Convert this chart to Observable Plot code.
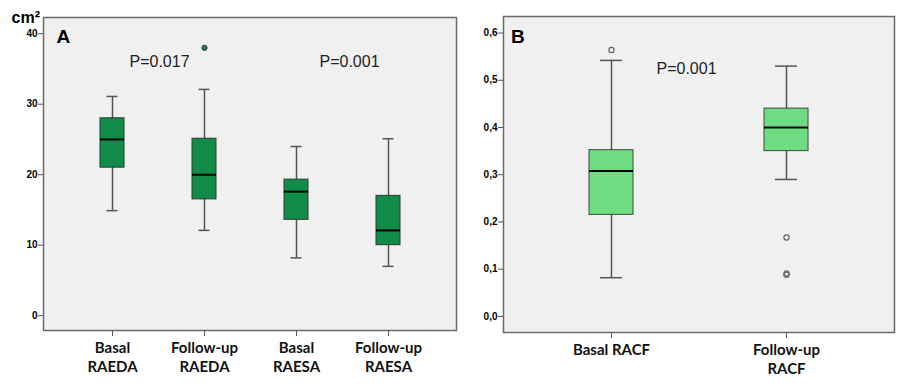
<!DOCTYPE html>
<html><head><meta charset="utf-8">
<script src="https://cdn.jsdelivr.net/npm/d3@7"></script>
<script src="https://cdn.jsdelivr.net/npm/@observablehq/plot@0.6"></script>
<style>
body{margin:0;background:#fff;}
#wrap{position:relative;width:900px;height:387px;overflow:hidden;background:#fff;}
#a{position:absolute;left:0;top:0;}
#b{position:absolute;left:460px;top:0;}
</style></head><body>
<div id="wrap"><div id="a"></div><div id="b"></div></div>
<script>
// ---- Panel A data (cm²)
const catsA = ["Basal RAEDA","Follow-up RAEDA","Basal RAESA","Follow-up RAESA"];
const labelsA = ["Basal\nRAEDA","Follow-up\nRAEDA","Basal\nRAESA","Follow-up\nRAESA"];
const lowA  = [14.9, 12.1,  8.2,  7.0];
const q1A   = [21.0, 16.5, 13.6, 10.0];
const medA  = [25.0, 20.0, 17.6, 12.1];
const q3A   = [28.0, 25.1, 19.3, 17.0];
const highA = [31.1, 32.1, 24.0, 25.1];
const outCatA = ["Follow-up RAEDA"];
const outValA = [38.0];
const ticksA = [0, 10, 20, 30, 40];
const pTextA = ["P=0.017", "P=0.001"];
const pCatA = ["Basal RAEDA", "Basal RAESA"];
const pValA = [36.0, 36.0];

// ---- Panel B data (RACF)
const catsB = ["Basal RACF","Follow-up RACF"];
const labelsB = ["Basal RACF","Follow-up\nRACF"];
const lowB  = [0.082, 0.290];
const q1B   = [0.215, 0.350];
const medB  = [0.308, 0.400];
const q3B   = [0.352, 0.440];
const highB = [0.542, 0.530];
const outCatB = ["Basal RACF","Follow-up RACF","Follow-up RACF","Follow-up RACF"];
const outValB = [0.564, 0.167, 0.091, 0.088];
const ticksB = [0, 0.1, 0.2, 0.3, 0.4, 0.5, 0.6];
const pTextB = ["P=0.001"];
const pCatB = ["Basal RACF"];
const pValB = [0.525];

const boxesA = catsA.map((c,i)=>({cat:c, low:lowA[i], q1:q1A[i], med:medA[i], q3:q3A[i], high:highA[i]}));
const outA = outCatA.map((c,i)=>({cat:c, v:outValA[i]}));
const pA = pTextA.map((t,i)=>({t, cat:pCatA[i], v:pValA[i]}));
const boxesB = catsB.map((c,i)=>({cat:c, low:lowB[i], q1:q1B[i], med:medB[i], q3:q3B[i], high:highB[i]}));
const outB = outCatB.map((c,i)=>({cat:c, v:outValB[i]}));
const pB = pTextB.map((t,i)=>({t, cat:pCatB[i], v:pValB[i]}));

const baseFont = "'Liberation Sans', Arial, sans-serif";
const labFont = "Lato, 'Open Sans', sans-serif";

const chartA = Plot.plot({
  width: 460, height: 387,
  marginLeft: 43, marginRight: 4, marginTop: 17, marginBottom: 57,
  style: {fontFamily: baseFont, background: "transparent", overflow: "visible"},
  x: {type: "band", domain: catsA, paddingInner: 0.741, paddingOuter: 0.598, axis: null},
  y: {domain: [-2.1, 42.3], axis: null},
  marks: [
    Plot.frame({fill: "#f0f0f0", stroke: "#6a6a6a", strokeWidth: 1.5}),
    Plot.axisY({ticks: ticksA, tickSize: 5, tickPadding: 1, fontSize: 10, fontWeight: "bold", stroke: "#555", fill: "#000", label: null}),
    Plot.axisX({tickSize: 6, tickPadding: 3, tickFormat: d => labelsA[catsA.indexOf(d)], fontSize: 15, fontFamily: labFont, fontWeight: 700, lineHeight: 1.27, stroke: "#555", fill: "#111", label: null}),
    Plot.ruleX(boxesA, {x: "cat", y1: "low", y2: "high", stroke: "#555", strokeWidth: 1.5}),
    Plot.tickY(boxesA, {x: "cat", y: "low", stroke: "#555", strokeWidth: 1.5, insetLeft: 6.5, insetRight: 6.5}),
    Plot.tickY(boxesA, {x: "cat", y: "high", stroke: "#555", strokeWidth: 1.5, insetLeft: 6.5, insetRight: 6.5}),
    Plot.barY(boxesA, {x: "cat", y1: "q1", y2: "q3", fill: "#118c48", stroke: "#2a3a30", strokeWidth: 1}),
    Plot.tickY(boxesA, {x: "cat", y: "med", stroke: "#000", strokeWidth: 2}),
    Plot.dot(outA, {x: "cat", y: "v", r: 2.6, fill: "#118c48", stroke: "#333", strokeWidth: 1}),
    Plot.text(pA.slice(0, 1), {x: "cat", y: "v", text: "t", dx: 47, fontSize: 16, fill: "#222"}),
    Plot.text(pA.slice(1, 2), {x: "cat", y: "v", text: "t", dx: 53, fontSize: 16, fill: "#222"}),
    Plot.text(["A"], {frameAnchor: "top-left", dx: 13, dy: 12, lineAnchor: "top", textAnchor: "start", fontSize: 19, fontWeight: 900, fill: "#000"}),
    Plot.text(["cm²"], {frameAnchor: "top-left", dx: -32, dy: 5, lineAnchor: "bottom", textAnchor: "start", fontSize: 16, fontWeight: "bold", fill: "#000"})
  ]
});
document.getElementById("a").append(chartA);

const chartB = Plot.plot({
  width: 440, height: 387,
  marginLeft: 43, marginRight: 6, marginTop: 16, marginBottom: 55,
  style: {fontFamily: baseFont, background: "transparent", overflow: "visible"},
  x: {type: "band", domain: catsB, paddingInner: 0.749, paddingOuter: 0.49, axis: null},
  y: {domain: [-0.034, 0.635], axis: null},
  marks: [
    Plot.frame({fill: "#f0f0f0", stroke: "#6a6a6a", strokeWidth: 1.5}),
    Plot.axisY({ticks: ticksB, tickSize: 5, tickPadding: 1, tickFormat: d => d3.format(".1f")(d).replace(".", ","), fontSize: 10, fontWeight: "bold", stroke: "#555", fill: "#000", label: null}),
    Plot.axisX({tickSize: 6, tickPadding: 3, tickFormat: d => labelsB[catsB.indexOf(d)], fontSize: 15, fontFamily: labFont, fontWeight: 700, lineHeight: 1.27, stroke: "#555", fill: "#111", label: null}),
    Plot.ruleX(boxesB, {x: "cat", y1: "low", y2: "high", stroke: "#555", strokeWidth: 1.5}),
    Plot.tickY(boxesB, {x: "cat", y: "low", stroke: "#555", strokeWidth: 1.5, insetLeft: 11, insetRight: 11}),
    Plot.tickY(boxesB, {x: "cat", y: "high", stroke: "#555", strokeWidth: 1.5, insetLeft: 11, insetRight: 11}),
    Plot.barY(boxesB, {x: "cat", y1: "q1", y2: "q3", fill: "#70dc82", stroke: "#3a4a3e", strokeWidth: 1}),
    Plot.tickY(boxesB, {x: "cat", y: "med", stroke: "#000", strokeWidth: 2}),
    Plot.dot(outB, {x: "cat", y: "v", r: 2.6, fill: "none", stroke: "#666", strokeWidth: 1.2}),
    Plot.text(pB, {x: "cat", y: "v", text: "t", dx: 75, fontSize: 16, fill: "#222"}),
    Plot.text(["B"], {frameAnchor: "top-left", dx: 7.5, dy: 13, lineAnchor: "top", textAnchor: "start", fontSize: 19, fontWeight: 900, fill: "#000"})
  ]
});
document.getElementById("b").append(chartB);
</script>
</body></html>
